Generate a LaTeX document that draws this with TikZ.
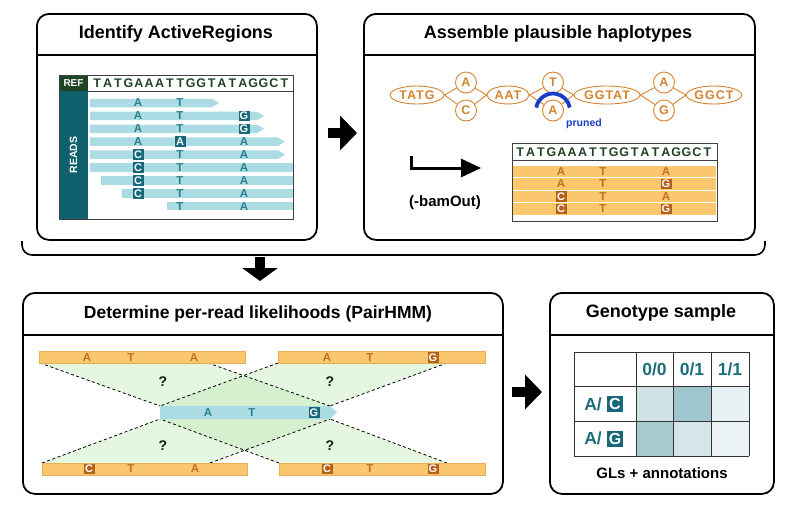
\documentclass[tikz,border=0pt]{standalone}
\usepackage{fontspec}
\setmainfont{Liberation Sans}
\usetikzlibrary{shapes.geometric,arrows.meta}
\definecolor{refgreen}{HTML}{1E4424}
\definecolor{readscol}{HTML}{11606D}
\definecolor{readbar}{HTML}{ABDCE4}
\definecolor{tealtxt}{HTML}{2A7F8E}
\definecolor{tealbox}{HTML}{16687A}
\definecolor{gorange}{HTML}{D4832E}
\definecolor{obar}{HTML}{FAC66E}
\definecolor{oedge}{HTML}{EBAE50}
\definecolor{otxt}{HTML}{C4701D}
\definecolor{obox}{HTML}{B6611B}
\definecolor{pblue}{HTML}{1B3DC6}
\definecolor{gfill}{RGB}{190,232,180}
\definecolor{tabtxt}{HTML}{1D6E7B}
\definecolor{cA}{HTML}{CFE3E7}
\definecolor{cB}{HTML}{9FC6CE}
\definecolor{cC}{HTML}{E8F1F3}
\definecolor{cD}{HTML}{A8CBD2}
\definecolor{cE}{HTML}{D5E6E9}
\definecolor{cF}{HTML}{EBF3F4}
\newcommand\myfs[1]{\fontsize{#1}{#1}\selectfont\bfseries}
\newcommand\rbar[3]{\fill[readbar] (#1,#3-4.25) -- (#2,#3-4.25) -- (#2+7,#3) -- (#2,#3+4.25) -- (#1,#3+4.25) -- cycle;}
\newcommand\sbar[2]{\fill[readbar] (#1,#2-4.25) rectangle (293,#2+4.25);}
\begin{document}
\begin{tikzpicture}[x=1pt,y=-1pt,
  panel/.style={draw, line width=1.8pt, rounded corners=12pt, anchor=north west, inner sep=0},
  ttl/.style={font=\myfs{18}},
  sepl/.style={line width=1.5pt},
  fat/.style={line width=10pt, -{Triangle[length=17pt,width=34pt]}},
  rl/.style={text=tealtxt, font=\myfs{11.5}, inner sep=0},
  rb/.style={fill=tealbox, text=white, font=\myfs{11}, inner sep=0, minimum width=11pt, minimum height=10.5pt},
  ol/.style={text=otxt, font=\myfs{11.5}, inner sep=0},
  ob/.style={fill=obox, text=white, font=\myfs{11}, inner sep=0, minimum width=11pt, minimum height=10.5pt},
  reft/.style={text=refgreen, font=\myfs{12.5}, inner sep=0},
  gfont/.style={font=\myfs{12.5}\addfontfeature{LetterSpace=8}},
  ell/.style={ellipse, draw=gorange, line width=0.9pt, text=gorange, gfont, inner sep=0, minimum height=18pt},
  circ/.style={circle, draw=gorange, line width=0.9pt, text=gorange, font=\myfs{12.5}, inner sep=0, minimum size=21pt},
  gedge/.style={draw=gorange, line width=0.9pt},
  dsh/.style={line width=0.8pt, dash pattern=on 3pt off 2.5pt},
  qm/.style={font=\myfs{14}, text=black!85!green},
  bar/.style={fill=obar, draw=oedge, line width=0.5pt},
  hd/.style={text=tabtxt, font=\myfs{17.5}, inner sep=0}
]
\useasboundingbox (0,0) rectangle (792,504);

% panels
\node[panel, minimum width=280pt, minimum height=226pt] (b1) at (36,13) {};
\node[panel, minimum width=391pt, minimum height=226pt] (b2) at (363,13) {};
\node[panel, minimum width=480pt, minimum height=201pt] (b3) at (22,292) {};
\node[panel, minimum width=224pt, minimum height=201pt] (b4) at (549,292) {};
\coordinate (s1) at (0,55);
\coordinate (s3) at (0,335);
\draw[sepl] (b1.west |- s1) -- (b1.east |- s1);
\draw[sepl] (b2.west |- s1) -- (b2.east |- s1);
\draw[sepl] (b3.west |- s3) -- (b3.east |- s3);
\draw[sepl] (b4.west |- s3) -- (b4.east |- s3);
\node[ttl] (t1) at (176,34) {Identify ActiveRegions};
\node[ttl] (t2) at (558,34) {Assemble plausible haplotypes};
\node[font=\myfs{17.5}] (t3) at (258,314) {Determine per-read likelihoods (PairHMM)};
\node[ttl] (t4) at (661,313) {Genotype sample};

% bracket and arrows
\draw[line width=1.6pt, rounded corners=10pt] (22,241) |- (765,255) -- (765,241);
\coordinate (brk) at (260,257);
\draw[line width=10pt, -{Triangle[length=13pt,width=35pt]}, shorten >=11pt] (brk) -- (brk |- b3.north);
\coordinate (a1) at (0,133);
\draw[fat, shorten <=10pt, shorten >=6pt] (b1.east |- a1) -- (b2.west |- a1);
\coordinate (a2) at (0,392);
\draw[fat, shorten <=8pt, shorten >=7pt] (b3.east |- a2) -- (b4.west |- a2);

% ---- box 1: active region ----
\fill[refgreen] (59,75) rectangle (88,91);
\node[text=white, font=\myfs{10}, inner sep=0] (reflab) at (73.5,83.3) {REF};
\fill[readscol] (59,91) rectangle (88,219);
\node[rotate=90, text=white, font=\myfs{10.5}, inner sep=0] (readslab) at (73.5,155) {READS};
\foreach \c [count=\i from 0] in {T,A,T,G,A,A,A,T,T,G,G,T,A,T,A,G,G,C,T}
  \node[reft] at (97.2+10.4*\i,83.5) {\c};
\rbar{90}{212}{103}
\rbar{90}{257}{115.9}
\rbar{90}{257}{128.8}
\rbar{90}{278}{141.7}
\rbar{90}{278}{154.6}
\sbar{90}{167.5}
\sbar{101}{180.4}
\sbar{122}{193.3}
\sbar{167}{206.2}
\node[rl] at (138,103) {A}; \node[rl] at (180,103) {T};
\node[rl] at (138,115.9) {A}; \node[rl] at (180,115.9) {T}; \node[rb] at (244,115.9) {G};
\node[rl] at (138,128.8) {A}; \node[rl] at (180,128.8) {T}; \node[rb] at (244,128.8) {G};
\node[rl] at (138,141.7) {A}; \node[rb] at (180,141.7) {A}; \node[rl] at (244,141.7) {A};
\node[rb] at (138,154.6) {C}; \node[rl] at (180,154.6) {T}; \node[rl] at (244,154.6) {A};
\node[rb] at (138,167.5) {C}; \node[rl] at (180,167.5) {T}; \node[rl] at (244,167.5) {A};
\node[rb] at (138,180.4) {C}; \node[rl] at (180,180.4) {T}; \node[rl] at (244,180.4) {A};
\node[rb] at (138,193.3) {C}; \node[rl] at (180,193.3) {T}; \node[rl] at (244,193.3) {A};
\node[rl] at (180,206.2) {T}; \node[rl] at (244,206.2) {A};
\draw[black!75, line width=0.7pt] (59,75) rectangle (293,219);
\draw[black!75, line width=0.7pt] (88,91) -- (293,91);

% ---- box 2: assembly graph ----
\node[ell, minimum width=54pt] (g1) at (417,95) {TATG};
\node[circ] (g2a) at (466,82.5) {A};
\node[circ] (g2c) at (466,110.5) {C};
\node[ell, minimum width=42pt] (g3) at (508,95) {AAT};
\node[circ] (g4t) at (553,82.5) {T};
\node[circ] (g4a) at (553,110.5) {A};
\node[ell, minimum width=66pt] (g5) at (607,95) {GGTAT};
\node[circ] (g6a) at (664,82.5) {A};
\node[circ] (g6g) at (664,110.5) {G};
\node[ell, minimum width=55pt] (g7) at (714,95) {GGCT};
\draw[gedge] (g1.east) -- (g2a); \draw[gedge] (g1.east) -- (g2c);
\draw[gedge] (g2a) -- (g3.west); \draw[gedge] (g2c) -- (g3.west);
\draw[gedge] (g3.east) -- (g4t); \draw[gedge] (g3.east) -- (g4a);
\draw[gedge] (g4t) -- (g5.west); \draw[gedge] (g4a) -- (g5.west);
\draw[gedge] (g5.east) -- (g6a); \draw[gedge] (g5.east) -- (g6g);
\draw[gedge] (g6a) -- (g7.west); \draw[gedge] (g6g) -- (g7.west);
\draw[pblue, line width=3.8pt] (g4a.center) ++(190:17) arc[start angle=190, end angle=350, radius=17];
\node[text=pblue, font=\myfs{10.5}, inner sep=0] (pr) at (584,124) {pruned};

\coordinate (ba1) at (411,156);
\coordinate (ba2) at (481,168);
\draw[line width=3pt, -{Triangle[length=20pt,width=18pt]}] (ba1) |- (ba2);
\node[font=\myfs{15}, inner sep=0] (bam) at (445,203) {(-bamOut)};

\foreach \y in {171.5,184,196.5,209} \fill[obar] (513,\y-5.6) rectangle (716,\y+5.6);
\foreach \c [count=\i from 0] in {T,A,T,G,A,A,A,T,T,G,G,T,A,T,A,G,G,C,T}
  \node[reft] at (520.2+10.4*\i,152) {\c};
\node[ol] at (561,171.5) {A}; \node[ol] at (603,171.5) {T}; \node[ol] at (666,171.5) {A};
\node[ol] at (561,184) {A}; \node[ol] at (603,184) {T}; \node[ob] at (666,184) {G};
\node[ob] at (561,196.5) {C}; \node[ol] at (603,196.5) {T}; \node[ol] at (666,196.5) {A};
\node[ob] at (561,209) {C}; \node[ol] at (603,209) {T}; \node[ob] at (666,209) {G};
\draw[black!75, line width=0.7pt] (512,143) rectangle (717,221);
\draw[black!75, line width=0.7pt] (512,160) -- (717,160);

% ---- box 3: PairHMM ----
\coordinate (rdTL) at (160,406); \coordinate (rdTR) at (330,406);
\coordinate (rdBL) at (160,419); \coordinate (rdBR) at (330,419);
\coordinate (h1a) at (40,363);  \coordinate (h1b) at (208,363);
\coordinate (h2a) at (278,363); \coordinate (h2b) at (447,363);
\coordinate (h3a) at (42,463);  \coordinate (h3b) at (210,463);
\coordinate (h4a) at (279,463); \coordinate (h4b) at (447,463);
\fill[gfill, opacity=0.4] (h1a) -- (h1b) -- (rdTR) -- (rdTL) -- cycle;
\fill[gfill, opacity=0.4] (h2a) -- (h2b) -- (rdTR) -- (rdTL) -- cycle;
\fill[gfill, opacity=0.4] (h3a) -- (h3b) -- (rdBR) -- (rdBL) -- cycle;
\fill[gfill, opacity=0.4] (h4a) -- (h4b) -- (rdBR) -- (rdBL) -- cycle;
\draw[dsh] (h1a) -- (rdTL); \draw[dsh] (h1b) -- (rdTR);
\draw[dsh] (h2a) -- (rdTL); \draw[dsh] (h2b) -- (rdTR);
\draw[dsh] (h3a) -- (rdBL); \draw[dsh] (h3b) -- (rdBR);
\draw[dsh] (h4a) -- (rdBL); \draw[dsh] (h4b) -- (rdBR);
\draw[bar] (39,351.5) rectangle (245,363);
\draw[bar] (278,351.5) rectangle (485,363);
\draw[bar] (42,463) rectangle (247,475);
\draw[bar] (279,463) rectangle (485,475);
\fill[readbar] (rdTL) -- (rdTR) -- (337,412.5) -- (rdBR) -- (rdBL) -- cycle;
\node[ol] at (87,357.5) {A}; \node[ol] at (131,357.5) {T}; \node[ol] at (194,357.5) {A};
\node[ol] at (327,357.5) {A}; \node[ol] at (370,357.5) {T}; \node[ob] at (433,357.5) {G};
\node[ob] at (89,469) {C}; \node[ol] at (131,469) {T}; \node[ol] at (195,469) {A};
\node[ob] at (327,469) {C}; \node[ol] at (370,469) {T}; \node[ob] at (433,469) {G};
\node[rl] at (208,412.5) {A}; \node[rl] at (252,412.5) {T}; \node[rb] at (314,412.5) {G};
\node[qm] at (163,382) {?}; \node[qm] at (330,382) {?};
\node[qm] at (163,446) {?}; \node[qm] at (330,446) {?};

% ---- box 4: genotype table ----
\fill[cA] (636,386) rectangle (673,421);
\fill[cB] (673,386) rectangle (711,421);
\fill[cC] (711,386) rectangle (749,421);
\fill[cD] (636,421) rectangle (673,456);
\fill[cE] (673,421) rectangle (711,456);
\fill[cF] (711,421) rectangle (749,456);
\foreach \x in {574,636,673,711,749} \draw[black!80, line width=0.8pt] (\x,352) -- (\x,456);
\foreach \y in {352,386,421,456} \draw[black!80, line width=0.8pt] (574,\y) -- (749,\y);
\node[hd] at (654.5,369.5) {0/0};
\node[hd] at (692,369.5) {0/1};
\node[hd] at (730,369.5) {1/1};
\node[hd] at (593,404) {A/};
\node[fill=tealbox, text=white, font=\myfs{16}, inner sep=0, minimum size=16pt] at (615,404) {C};
\node[hd] at (593,438.5) {A/};
\node[fill=tealbox, text=white, font=\myfs{16}, inner sep=0, minimum size=16pt] at (615,438.5) {G};
\node[font=\myfs{15}, inner sep=0] (gl) at (662,473) {GLs + annotations};
\end{tikzpicture}
\end{document}
